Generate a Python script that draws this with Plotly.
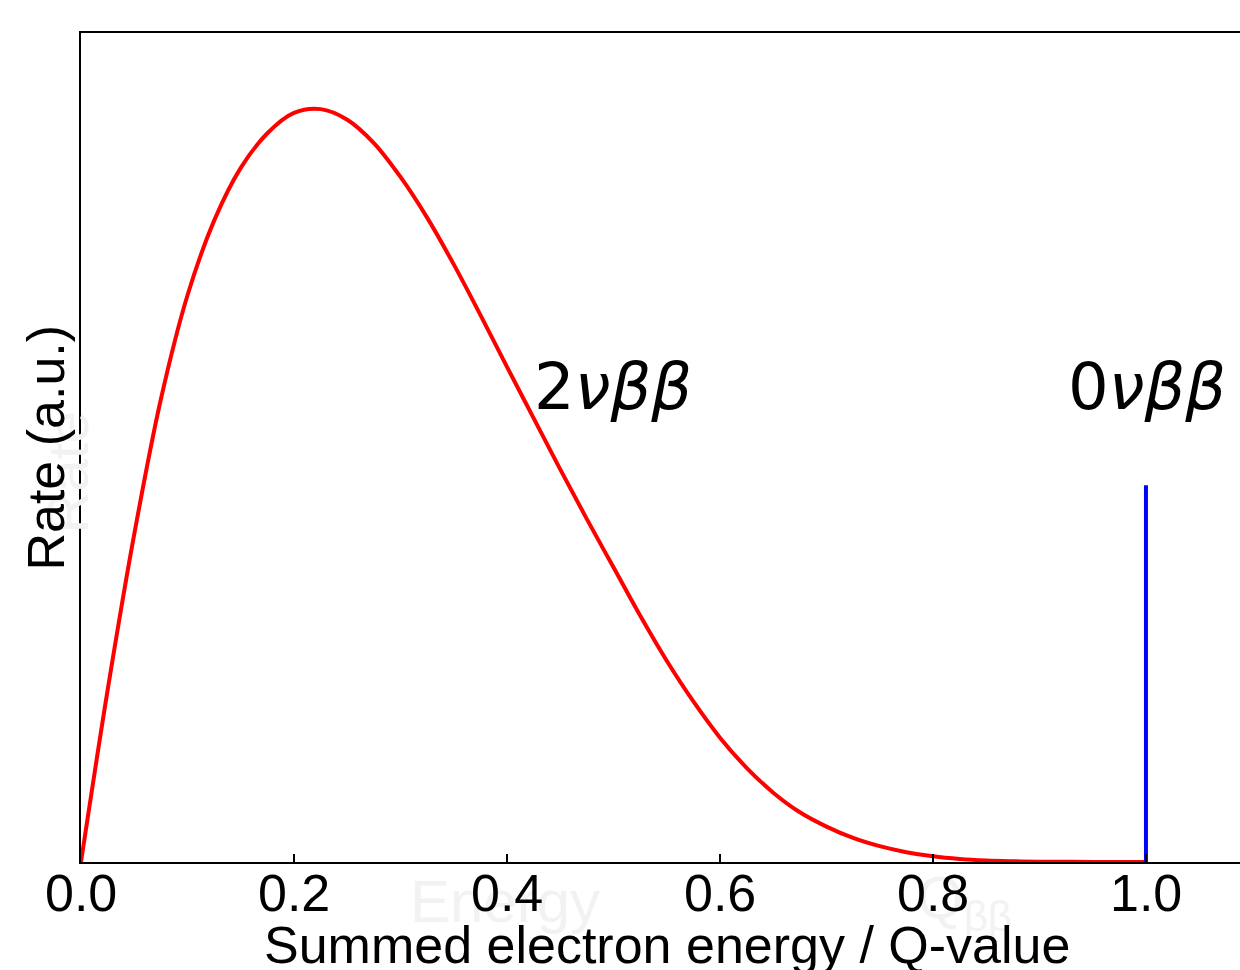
import plotly.graph_objects as go

# Summed-energy spectrum of the two-neutrino mode (normalised to peak = 1)
energy_frac = [0.0, 0.025, 0.05, 0.075, 0.10, 0.125, 0.15, 0.175, 0.20, 0.225,
               0.25, 0.275, 0.30, 0.325, 0.35, 0.375, 0.40, 0.425, 0.45, 0.475,
               0.50, 0.525, 0.55, 0.575, 0.60, 0.625, 0.65, 0.675, 0.70, 0.725,
               0.75, 0.775, 0.80, 0.825, 0.85, 0.875, 0.90, 0.95, 1.0]
rate_2nu = [0.0, 0.228, 0.435, 0.614, 0.752, 0.851, 0.921, 0.967, 0.994, 0.999,
            0.985, 0.954, 0.909, 0.855, 0.793, 0.726, 0.657, 0.589, 0.521, 0.455,
            0.391, 0.327, 0.267, 0.213, 0.165, 0.125, 0.092, 0.066, 0.047, 0.032,
            0.021, 0.013, 0.0075, 0.004, 0.002, 0.001, 0.0004, 0.0001, 0.0]

# Neutrinoless mode: a single line at the Q-value
peak_x = [1.0, 1.0]
peak_y = [0.0, 0.5]

x_ticks = [0.0, 0.2, 0.4, 0.6, 0.8, 1.0]
x_tick_text = ["0.0", "0.2", "0.4", "0.6", "0.8", "1.0"]

fig = go.Figure()
fig.add_trace(go.Scatter(x=energy_frac, y=rate_2nu, mode="lines",
                         line=dict(color="#ff0000", width=4, shape="spline", smoothing=1.0),
                         hoverinfo="skip", showlegend=False))
fig.add_trace(go.Scatter(x=peak_x, y=peak_y, mode="lines",
                         line=dict(color="#0000ff", width=4),
                         hoverinfo="skip", showlegend=False))

axis_font = dict(family="Liberation Sans", size=52, color="black")
label_font = dict(family="DejaVu Sans", size=64, color="black")
ghost = "#f2f2f2"
annotations = [
    # faint background lettering
    dict(text="Energy", x=0.398, y=-0.048, xref="x", yref="paper", showarrow=False,
         yanchor="middle", font=dict(family="Liberation Sans", size=60, color=ghost)),
    dict(text="Q<sub>ββ</sub>", x=0.83, y=-0.048, xref="x", yref="paper", showarrow=False,
         yanchor="middle", font=dict(family="Liberation Sans", size=60, color=ghost)),
    dict(text="Rate", x=-0.012, y=0.47, xref="paper", yref="paper", showarrow=False,
         xanchor="center", yanchor="middle", textangle=-90,
         font=dict(family="Liberation Sans", size=58, color=ghost)),
    # spectrum labels
    dict(text="2<i>νββ</i>", x=0.4235, y=0.63, xref="x", yref="y", showarrow=False,
         xanchor="left", yanchor="middle", font=label_font),
    dict(text="0<i>νββ</i>", x=0.925, y=0.63, xref="x", yref="y", showarrow=False,
         xanchor="left", yanchor="middle", font=label_font),
    # axis titles
    dict(text="Summed electron energy / Q-value", x=0.55, y=-0.1, xref="x", yref="paper",
         showarrow=False, xanchor="center", yanchor="middle", font=axis_font),
    dict(text="Rate (a.u.)", x=-0.031, y=0.5, xref="paper", yref="paper", showarrow=False,
         xanchor="center", yanchor="middle", textangle=-90, font=axis_font),
]
# tick labels sit close under the axis line
for tv, tt in zip(x_ticks, x_tick_text):
    annotations.append(dict(text=tt, x=tv, y=0.0, xref="x", yref="paper", showarrow=False,
                            xanchor="center", yanchor="top", font=axis_font))

fig.update_layout(
    width=1240, height=970,
    margin=dict(l=81, r=0, t=33, b=108),
    paper_bgcolor="white", plot_bgcolor="white",
    annotations=annotations,
    xaxis=dict(range=[0, 1.0883], tickmode="array", tickvals=x_ticks,
               showticklabels=False,
               ticks="inside", ticklen=8, tickwidth=2, tickcolor="black",
               showline=True, linecolor="black", linewidth=2, mirror=True,
               showgrid=False, zeroline=False),
    yaxis=dict(range=[0, 1.1], showticklabels=False, ticks="",
               showline=True, linecolor="black", linewidth=2, mirror=False,
               showgrid=False, zeroline=False),
)

fig.write_html("out.html")
